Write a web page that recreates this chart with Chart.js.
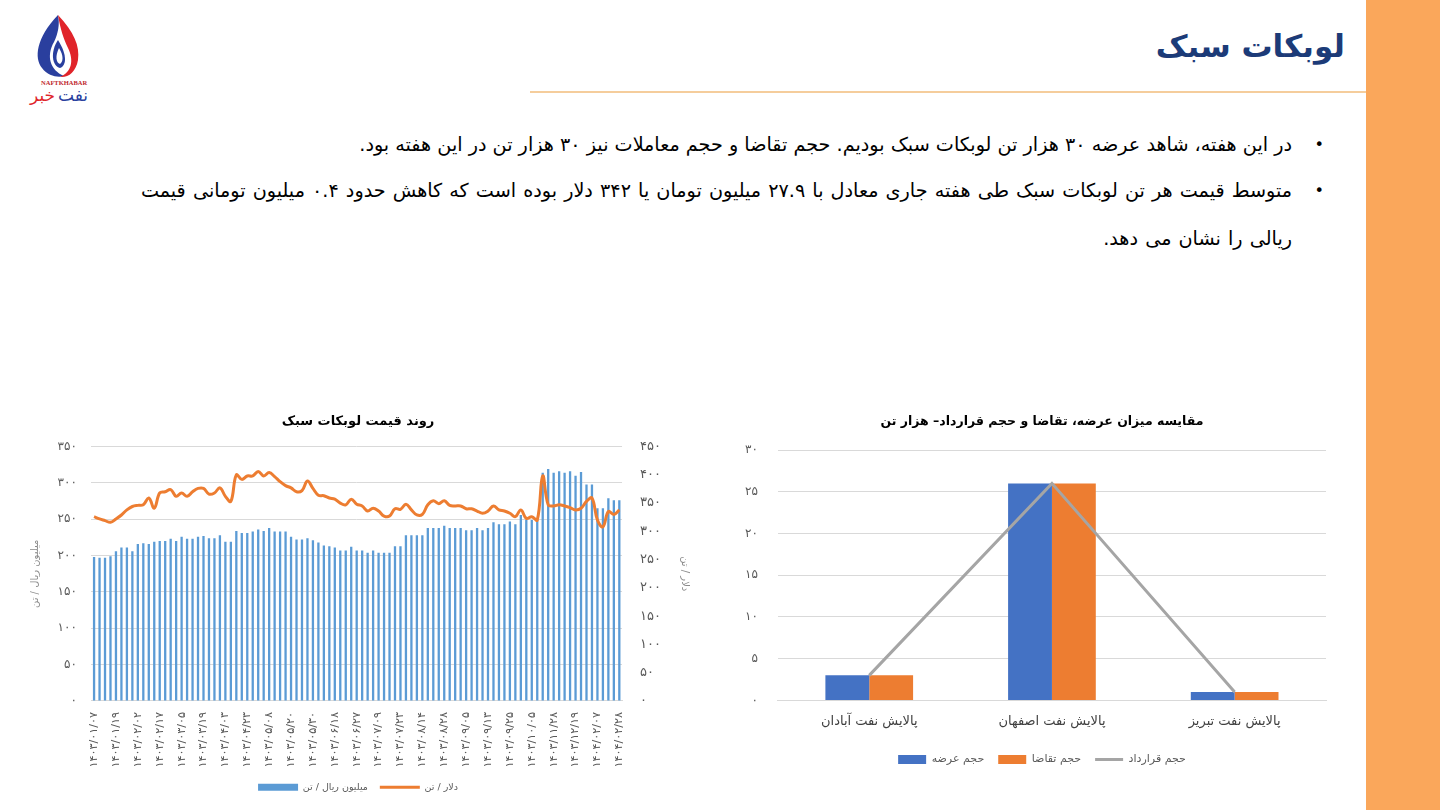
<!DOCTYPE html>
<html lang="fa">
<head>
<meta charset="utf-8">
<title>لوبکات سبک</title>
<script src="https://cdn.jsdelivr.net/npm/chart.js@4.4.1/dist/chart.umd.min.js"></script>
<style>
  html, body { margin: 0; padding: 0; }
  body {
    width: 1440px; height: 810px; overflow: hidden; position: relative;
    background: #fff; font-family: "DejaVu Sans", sans-serif; color: #000;
  }
  .stripe { position: absolute; left: 1366px; top: 0; width: 74px; height: 810px; background: #faa75b; }
  .rule { position: absolute; left: 530px; top: 91px; width: 836px; height: 2px; background: #f5cd9c; }
  .title {
    position: absolute; right: 95px; top: 28px; direction: rtl;
    font-size: 31px; font-weight: bold; color: #1c3b78;
  }
  .logo { position: absolute; left: 28px; top: 10px; }
  .item {
    position: absolute; right: 148px; direction: rtl; text-align: right;
    font-size: 19.2px; line-height: 48px; white-space: nowrap;
  }
  .item::before {
    content: "•"; position: absolute; right: -32px; top: 0; font-size: 16px;
  }
  .box { position: absolute; }
</style>
</head>
<body>
<div class="stripe"></div>
<div class="rule"></div>
<div class="title">لوبکات سبک</div>

<svg class="logo" width="80" height="95" viewBox="0 0 80 95">
  <path d="M30 5 C 8 28, 6 48, 14 58 C 20 66, 30 68, 36 66 C 22 60, 18 46, 26 32 C 30 24, 32 14, 30 5 Z" fill="#2a3f9e"/>
  <path d="M30 5 C 46 22, 52 36, 50 50 C 48 62, 40 68, 32 67 C 44 62, 46 50, 40 38 C 36 30, 32 18, 30 5 Z" fill="#e0242a"/>
  <path d="M30 30 C 22 42, 24 56, 32 58 C 38 56, 40 46, 30 30 Z" fill="#2a3f9e"/>
  <path d="M31 38 C 27 46, 28 53, 32 54 C 35 52, 36 46, 31 38 Z" fill="#ffffff"/>
  <text x="13" y="75" font-size="6.5" font-weight="bold" fill="#c0262d" font-family="Liberation Serif">NAFTKHABAR</text>
  <text x="2" y="91" font-size="17" fill="#e0242a" font-family="DejaVu Sans">خبر</text>
  <text x="30" y="91" font-size="17" fill="#2a3f9e" font-family="DejaVu Sans">نفت</text>
</svg>

<div class="item" style="top:121px">در این هفته، شاهد عرضه ۳۰ هزار تن لوبکات سبک بودیم. حجم تقاضا و حجم معاملات نیز ۳۰ هزار تن در این هفته بود.</div>
<div class="item" style="top:167px; word-spacing:1px">متوسط قیمت هر تن لوبکات سبک طی هفته جاری معادل با ۲۷.۹ میلیون تومان یا ۳۴۲ دلار بوده است که کاهش حدود ۰.۴ میلیون تومانی قیمت<br>ریالی را نشان می دهد.</div>

<div class="box" style="left:15px; top:405px; width:676px; height:397px;"><canvas id="priceChart"></canvas></div>
<div class="box" style="left:725px; top:405px; width:634px; height:370px;"><canvas id="volumeChart"></canvas></div>

<script>
// تاریخ‌های محور افقی (هر چهار ستون یک برچسب)
const dateLabels = ['۱۴۰۳/۰۱/۰۷', '۱۴۰۳/۰۱/۱۹', '۱۴۰۳/۰۲/۰۲', '۱۴۰۳/۰۲/۱۷', '۱۴۰۳/۰۳/۰۵', '۱۴۰۳/۰۳/۱۹',
  '۱۴۰۳/۰۴/۰۳', '۱۴۰۳/۰۴/۲۳', '۱۴۰۳/۰۵/۰۸', '۱۴۰۳/۰۵/۲۰', '۱۴۰۳/۰۵/۳۰', '۱۴۰۳/۰۶/۱۸', '۱۴۰۳/۰۶/۲۷',
  '۱۴۰۳/۰۷/۰۹', '۱۴۰۳/۰۷/۲۳', '۱۴۰۳/۰۸/۱۴', '۱۴۰۳/۰۸/۲۸', '۱۴۰۳/۰۹/۰۵', '۱۴۰۳/۰۹/۱۳', '۱۴۰۳/۰۹/۲۵',
  '۱۴۰۳/۱۰/۰۵', '۱۴۰۳/۱۱/۲۸', '۱۴۰۳/۱۲/۱۹', '۱۴۰۴/۰۲/۰۷', '۱۴۰۴/۰۲/۲۸'];
const labelEvery = 4;

// میلیون ریال / تن
const rialPrice = [198, 197, 197, 199, 206, 211, 211, 206, 216, 217,
  216, 219, 220, 220, 223, 220, 226, 223, 223, 226,
  227, 224, 224, 228, 219, 219, 234, 231, 231, 233,
  236, 234, 238, 233, 233, 233, 226, 222, 222, 224,
  221, 218, 214, 213, 211, 207, 207, 212, 207, 207,
  204, 207, 204, 204, 204, 213, 213, 228, 228, 228,
  228, 238, 238, 238, 241, 238, 238, 238, 235, 235,
  238, 235, 238, 246, 243, 243, 247, 243, 256, 249,
  249, 249, 314, 319, 314, 316, 314, 316, 310, 315,
  298, 298, 265, 265, 279, 276, 276];

// دلار / تن
const dollarPrice = [326, 322, 319, 316, 322, 329, 338, 344, 346, 347,
  359, 341, 368, 370, 374, 362, 368, 362, 370, 376,
  376, 366, 368, 377, 362, 353, 400, 392, 398, 398,
  406, 398, 404, 397, 388, 381, 377, 370, 372, 389,
  376, 364, 363, 359, 357, 350, 347, 357, 348, 345,
  336, 341, 336, 327, 327, 340, 339, 348, 338, 329,
  330, 347, 354, 349, 354, 346, 345, 345, 340, 340,
  336, 332, 336, 345, 338, 336, 332, 326, 338, 323,
  326, 320, 398, 347, 345, 347, 345, 342, 338, 341,
  353, 359, 320, 308, 335, 330, 338];

const rialTicks = [0, 50, 100, 150, 200, 250, 300, 350];
const dollarTicks = [0, 50, 100, 150, 200, 250, 300, 350, 400, 450];

// نمودار عرضه و تقاضا
const refineries = ['پالایش نفت آبادان', 'پالایش نفت اصفهان', 'پالایش نفت تبریز'];
const supply = [3, 26, 1];
const demand = [3, 26, 1];
const contract = [3, 26, 1];
const volumeTicks = [0, 5, 10, 15, 20, 25, 30];

const faDigits = '۰۱۲۳۴۵۶۷۸۹';
const toFa = n => String(n).replace(/\d/g, d => faDigits[d]);

Chart.defaults.font.family = '"DejaVu Sans", sans-serif';
Chart.defaults.color = '#595959';
Chart.defaults.animation = false;

const categories = rialPrice.map((v, i) => i % labelEvery === 0 ? dateLabels[i / labelEvery] : '');
const gridColor = '#d9d9d9';

new Chart(document.getElementById('priceChart'), {
  data: {
    labels: categories,
    datasets: [
      {
        type: 'bar',
        label: 'میلیون ریال / تن',
        data: rialPrice,
        backgroundColor: '#5b9bd5',
        barPercentage: 0.42,
        categoryPercentage: 1,
        yAxisID: 'y',
        order: 1,
        pointStyle: 'rect'
      },
      {
        type: 'line',
        label: 'دلار / تن',
        data: dollarPrice,
        borderColor: '#ed7d31',
        backgroundColor: '#ed7d31',
        borderWidth: 3,
        pointRadius: 0,
        tension: 0.4,
        yAxisID: 'y1',
        order: 0,
        pointStyle: 'line'
      }
    ]
  },
  options: {
    responsive: true,
    maintainAspectRatio: false,
    layout: { padding: { left: 10, right: 0, top: 0, bottom: 0 } },
    plugins: {
      title: {
        display: true,
        text: 'روند قیمت لوبکات سبک',
        color: '#000',
        font: { size: 13, weight: 'bold' },
        padding: { top: 9, bottom: 17 }
      },
      legend: {
        position: 'bottom',
        labels: {
          usePointStyle: true,
          pointStyleWidth: 40,
          boxHeight: 7,
          font: { size: 9.5 },
          padding: 12,
          sort: (a, b) => a.datasetIndex - b.datasetIndex
        }
      },
      tooltip: { enabled: false }
    },
    scales: {
      x: {
        grid: { display: false },
        border: { color: gridColor },
        ticks: {
          autoSkip: false,
          maxRotation: 90,
          minRotation: 90,
          font: { size: 11.2 },
          padding: 3,
          callback: (v, i) => categories[i]
        }
      },
      y: {
        position: 'left',
        min: 0,
        max: 350,
        afterBuildTicks: axis => { axis.ticks = rialTicks.map(v => ({ value: v })); },
        grid: { color: gridColor, drawTicks: false },
        border: { display: false },
        ticks: { font: { size: 12 }, padding: 14.5, callback: v => toFa(v) },
        title: { display: true, text: 'میلیون ریال / تن', color: '#8c8c8c', font: { size: 10 }, padding: { top: 4, bottom: 2 } }
      },
      y1: {
        position: 'right',
        min: 0,
        max: 450,
        afterBuildTicks: axis => { axis.ticks = dollarTicks.map(v => ({ value: v })); },
        grid: { drawOnChartArea: false, drawTicks: false },
        border: { display: false },
        ticks: { font: { size: 13 }, padding: 18, callback: v => toFa(v) },
        title: { display: true, text: 'دلار / تن', color: '#8c8c8c', font: { size: 10 }, padding: { top: 0, bottom: 0 } }
      }
    }
  }
});

new Chart(document.getElementById('volumeChart'), {
  data: {
    labels: refineries,
    datasets: [
      {
        type: 'bar',
        label: 'حجم عرضه',
        data: supply,
        backgroundColor: '#4472c4',
        order: 1,
        pointStyle: 'rect'
      },
      {
        type: 'bar',
        label: 'حجم تقاضا',
        data: demand,
        backgroundColor: '#ed7d31',
        order: 1,
        pointStyle: 'rect'
      },
      {
        type: 'line',
        label: 'حجم قرارداد',
        data: contract,
        borderColor: '#a5a5a5',
        backgroundColor: '#a5a5a5',
        borderWidth: 3,
        pointRadius: 0,
        tension: 0,
        order: 0,
        pointStyle: 'line'
      }
    ]
  },
  options: {
    responsive: true,
    maintainAspectRatio: false,
    datasets: { bar: { categoryPercentage: 0.48, barPercentage: 1 } },
    plugins: {
      title: {
        display: true,
        text: 'مقایسه میزان عرضه، تقاضا و حجم قرارداد– هزار تن',
        color: '#000',
        font: { size: 12.5, weight: 'bold' },
        padding: { top: 9, bottom: 21 }
      },
      legend: {
        position: 'bottom',
        labels: {
          usePointStyle: true,
          pointStyleWidth: 28,
          boxHeight: 9,
          font: { size: 11 },
          padding: 14,
          sort: (a, b) => a.datasetIndex - b.datasetIndex
        }
      },
      tooltip: { enabled: false }
    },
    scales: {
      x: {
        grid: { display: false },
        border: { color: gridColor },
        ticks: { font: { size: 13 }, color: '#404040', padding: 5 },
        // کمی فاصله بیشتر تا راهنما
        afterFit: axis => { axis.height += 6; }
      },
      y: {
        min: 0,
        max: 30,
        afterBuildTicks: axis => { axis.ticks = volumeTicks.map(v => ({ value: v })); },
        grid: { color: gridColor, drawTicks: false },
        border: { display: false },
        ticks: { font: { size: 12 }, padding: 20, callback: v => toFa(v) }
      },
      // فضای خالی سمت راست تا راهنما زیر وسط نمودار بیفتد
      spacer: {
        type: 'linear',
        position: 'right',
        grid: { display: false },
        border: { display: false },
        ticks: { display: false },
        afterFit: axis => { axis.width = 33; }
      }
    }
  }
});
</script>
</body>
</html>
